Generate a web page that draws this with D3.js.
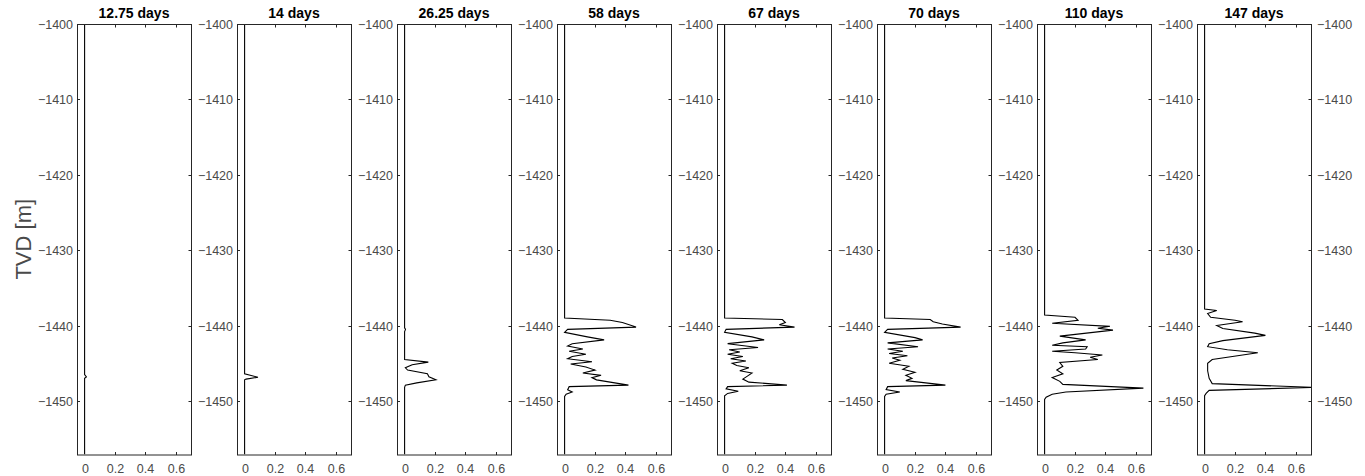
<!DOCTYPE html>
<html><head><meta charset="utf-8">
<script src="https://cdn.jsdelivr.net/npm/d3@7"></script>
<style>body{margin:0;background:#fff;} text{font-family:"Liberation Sans",Arial,sans-serif;}</style>
</head><body>
<svg id="c" width="1365" height="476"></svg>
<script>
const titles = ["12.75 days","14 days","26.25 days","58 days","67 days","70 days","110 days","147 days"];
const yTicks = [-1400,-1410,-1420,-1430,-1440,-1450];
const xTicks = [0,0.2,0.4,0.6];
const xTickLabels = ["0","0.2","0.4","0.6"];
const yDomain = [-1457.1,-1400];
const xDomain = [-0.05,0.7];

// [depth, value] profiles
const s1275 = [[-1400,0],[-1446.5,0],[-1446.8,0.012],[-1447.0,0],[-1457.1,0]];
const s14 = [[-1400,0],[-1446.4,0],[-1446.85,0.088],[-1447.1,0.01],[-1447.2,0],[-1457.1,0]];
const s2625 = [[-1400,0],[-1440.3,0],[-1440.5,0.006],[-1440.8,0],[-1444.5,0],[-1444.85,0.156],[-1445.2,0.05],[-1445.6,0.005],[-1445.9,0.02],[-1446.4,0.15],[-1446.8,0.16],[-1447.2,0.206],[-1447.6,0.08],[-1447.9,0.005],[-1448.2,0],[-1457.1,0]];
const s58 = [[-1400,0],[-1439.0,0],[-1439.3,0.3],[-1439.6,0.38],[-1440.2,0.47],[-1440.5,0.02],[-1440.9,0],[-1441.5,0.15],[-1441.9,0.26],[-1442.4,0.05],[-1442.7,0.02],[-1443.1,0.12],[-1443.4,0.03],[-1443.8,0.14],[-1444.1,0.05],[-1444.4,0.02],[-1444.8,0.18],[-1445.1,0.04],[-1445.5,0.14],[-1445.9,0.2],[-1446.3,0.12],[-1446.6,0.24],[-1446.9,0.18],[-1447.2,0.21],[-1447.9,0.42],[-1448.1,0.03],[-1448.5,0.02],[-1448.8,0.05],[-1449.1,0.01],[-1449.4,0],[-1457.1,0]];
const s67 = [[-1400,0],[-1439.0,0],[-1439.2,0.38],[-1439.6,0.4],[-1439.9,0.36],[-1440.2,0.46],[-1440.5,0.01],[-1440.9,0],[-1441.5,0.18],[-1441.9,0.26],[-1442.4,0.02],[-1442.9,0.22],[-1443.2,0.03],[-1443.5,0.1],[-1443.8,0.02],[-1444.1,0.12],[-1444.4,0.04],[-1444.7,0.14],[-1445.0,0.05],[-1445.3,0.08],[-1445.6,0.16],[-1446.0,0.1],[-1446.3,0.18],[-1446.7,0.15],[-1447.1,0.12],[-1447.5,0.16],[-1447.9,0.41],[-1448.1,0.02],[-1448.4,0.01],[-1448.7,0.09],[-1449.0,0.02],[-1449.3,0],[-1457.1,0]];
const s70 = [[-1400,0],[-1439.0,0],[-1439.2,0.3],[-1439.5,0.32],[-1439.8,0.38],[-1440.2,0.5],[-1440.5,0.02],[-1440.9,0],[-1441.6,0.2],[-1441.9,0.25],[-1442.3,0.02],[-1442.8,0.22],[-1443.1,0.02],[-1443.4,0.12],[-1443.7,0.03],[-1444.0,0.15],[-1444.3,0.05],[-1444.6,0.1],[-1445.0,0.03],[-1445.4,0.16],[-1445.8,0.12],[-1446.2,0.2],[-1446.6,0.14],[-1447.0,0.18],[-1447.3,0.14],[-1447.9,0.4],[-1448.1,0.02],[-1448.5,0.01],[-1448.8,0.1],[-1449.1,0.01],[-1449.4,0],[-1457.1,0]];
const s110 = [[-1400,0],[-1438.6,0],[-1438.9,0.2],[-1439.3,0.22],[-1439.7,0.05],[-1440.1,0.43],[-1440.35,0.35],[-1440.6,0.45],[-1441.4,0.1],[-1441.9,0.27],[-1442.3,0.12],[-1442.6,0.05],[-1442.8,0.28],[-1443.1,0.27],[-1443.4,0.05],[-1443.6,0.2],[-1443.9,0.38],[-1444.2,0.3],[-1444.5,0.35],[-1444.9,0.1],[-1445.4,0.12],[-1445.9,0.08],[-1446.4,0.12],[-1446.9,0.05],[-1447.4,0.1],[-1447.8,0.12],[-1448.3,0.65],[-1448.8,0.14],[-1449.1,0.05],[-1449.5,0.01],[-1449.8,0],[-1457.1,0]];
const s147 = [[-1400,0],[-1437.8,0],[-1438.0,0.08],[-1438.4,0.02],[-1438.9,0.04],[-1439.3,0.2],[-1439.5,0.25],[-1440.0,0.08],[-1440.4,0.12],[-1441.0,0.33],[-1441.3,0.4],[-1442.0,0.12],[-1442.4,0.03],[-1442.8,0.02],[-1443.2,0.15],[-1443.6,0.35],[-1443.9,0.25],[-1444.5,0.05],[-1445.0,0.02],[-1446.0,0.02],[-1447.0,0.03],[-1447.7,0.05],[-1448.2,0.72],[-1448.6,0.03],[-1449.0,0.01],[-1449.3,0],[-1457.1,0]];
const series = [s1275,s14,s2625,s58,s67,s70,s110,s147];

const svg = d3.select("#c");
const plotTop = 24, plotBottom = 454.5, pw = 114, step = 160, left0 = 77;
const axisCol = "#262626", labCol = "#4a4a4a";
const y = d3.scaleLinear().domain(yDomain).range([plotBottom, plotTop]);
const fmtY = v => String(v).replace("-", "\u2212");

svg.append("text").attr("transform",`translate(31,${(plotTop+plotBottom)/2}) rotate(-90)`)
  .attr("text-anchor","middle").attr("font-size",22).attr("fill",labCol).text("TVD [m]");

series.forEach((s,i)=>{
  const L = left0 + i*step;
  const x = d3.scaleLinear().domain(xDomain).range([L, L+pw]);
  const g = svg.append("g");
  const cid = "clip"+i;
  g.append("clipPath").attr("id",cid).append("rect").attr("x",L).attr("y",plotTop).attr("width",pw).attr("height",plotBottom-plotTop);
  const line = d3.line().x(d=>x(d[1])).y(d=>y(d[0]));
  g.append("path").datum(s).attr("d",line).attr("fill","none").attr("stroke","#000").attr("stroke-width",1.1).attr("clip-path",`url(#${cid})`);
  g.append("rect").attr("x",L+0.5).attr("y",plotTop+0.5).attr("width",pw).attr("height",plotBottom-plotTop).attr("fill","none").attr("stroke",axisCol).attr("stroke-width",1);
  yTicks.forEach(t=>{
    const yy = Math.round(y(t))+0.5;
    g.append("line").attr("x1",L).attr("x2",L+3).attr("y1",yy).attr("y2",yy).attr("stroke",axisCol);
    g.append("line").attr("x1",L+pw-2.5).attr("x2",L+pw+0.5).attr("y1",yy).attr("y2",yy).attr("stroke",axisCol);
    g.append("text").attr("x",L-4).attr("y",yy).attr("dy","0.35em").attr("text-anchor","end")
      .attr("font-size",12.5).attr("fill",labCol).text(fmtY(t));
    if(i===series.length-1){
      g.append("text").attr("x",L+pw+6).attr("y",yy).attr("dy","0.35em").attr("text-anchor","start")
        .attr("font-size",12.5).attr("fill",labCol).text(fmtY(t));
    }
  });
  xTicks.forEach((t,k)=>{
    const xx = Math.round(x(t))+0.5;
    if(k>0){
      g.append("line").attr("x1",xx).attr("x2",xx).attr("y1",plotBottom+0.5).attr("y2",plotBottom-2.5).attr("stroke",axisCol);
      g.append("line").attr("x1",xx).attr("x2",xx).attr("y1",plotTop+0.5).attr("y2",plotTop+3.5).attr("stroke",axisCol);
    }
    g.append("text").attr("x",xx).attr("y",plotBottom+14).attr("dy","0.35em").attr("text-anchor","middle")
      .attr("font-size",12.5).attr("fill",labCol).text(xTickLabels[k]);
  });
  g.append("text").attr("x",L+pw/2).attr("y",plotTop-6).attr("text-anchor","middle").attr("font-size",14)
    .attr("font-weight","bold").attr("fill","#000").text(titles[i]);
});
</script>
</body></html>
